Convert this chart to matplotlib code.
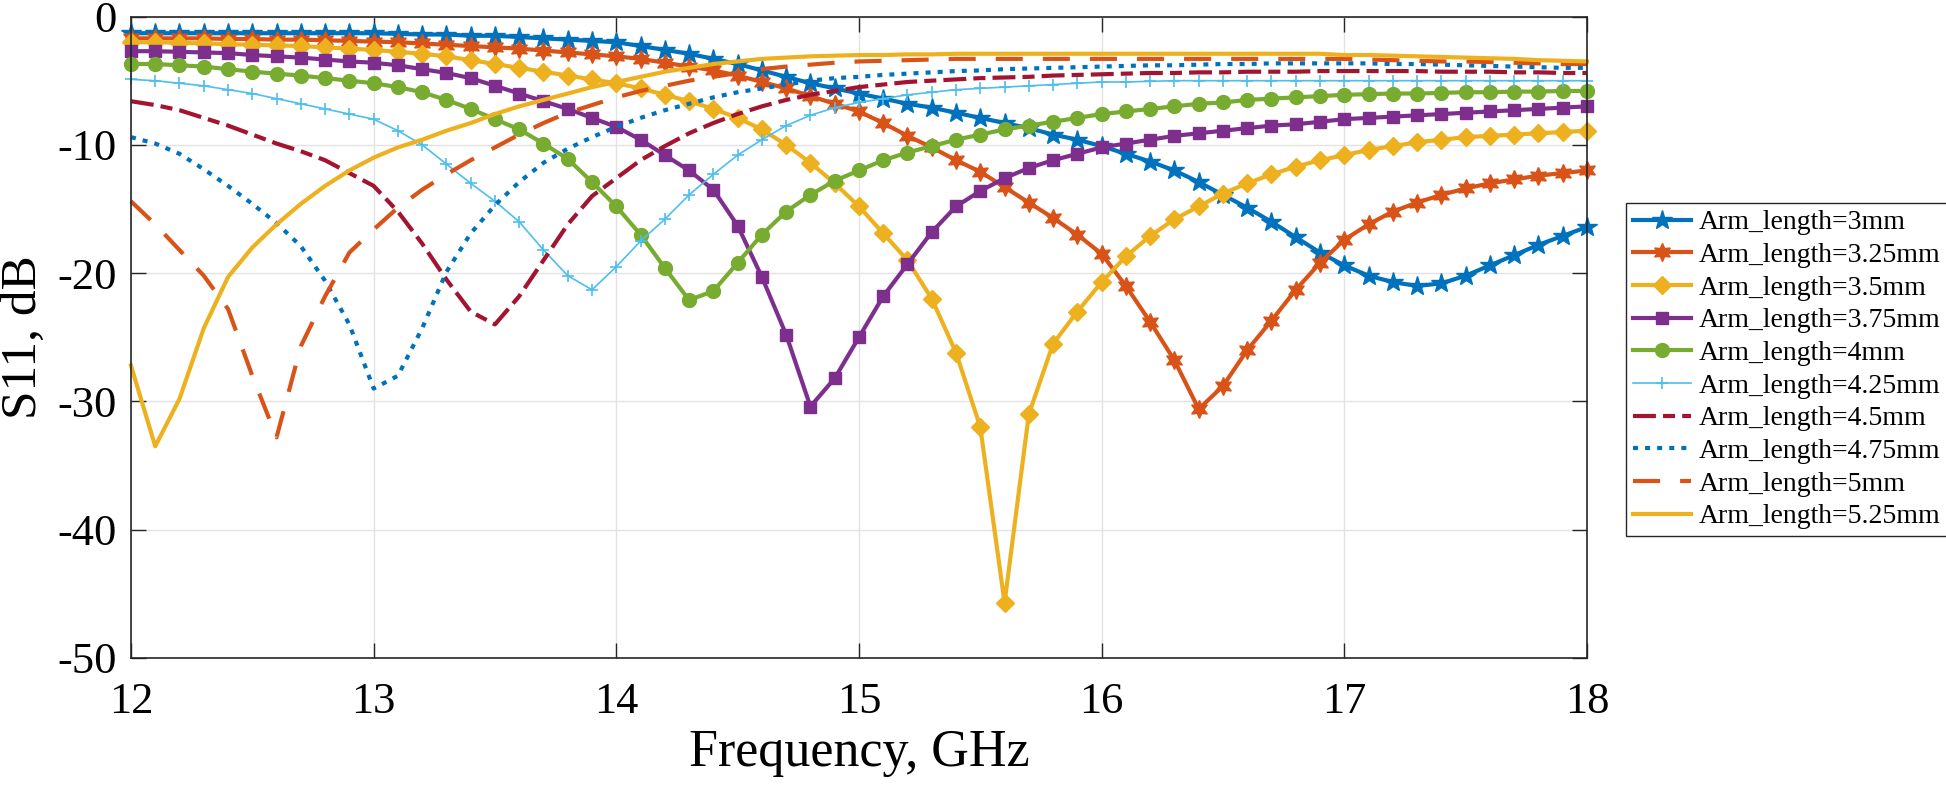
import matplotlib
matplotlib.use('Agg')
import matplotlib.pyplot as plt

plt.rcParams['font.family'] = ['Liberation Serif', 'DejaVu Serif']
plt.rcParams['axes.unicode_minus'] = False

# frequency sweep, GHz
freq = [12.0, 12.1, 12.2, 12.3, 12.4, 12.5, 12.6, 12.7, 12.8, 12.9,
        13.0, 13.1, 13.2, 13.3, 13.4, 13.5, 13.6, 13.7, 13.8, 13.9,
        14.0, 14.1, 14.2, 14.3, 14.4, 14.5, 14.6, 14.7, 14.8, 14.9,
        15.0, 15.1, 15.2, 15.3, 15.4, 15.5, 15.6, 15.7, 15.8, 15.9,
        16.0, 16.1, 16.2, 16.3, 16.4, 16.5, 16.6, 16.7, 16.8, 16.9,
        17.0, 17.1, 17.2, 17.3, 17.4, 17.5, 17.6, 17.7, 17.8, 17.9,
        18.0]

# S11 (dB), one list per arm length
s11_300 = [-1.3, -1.3, -1.3, -1.3, -1.3, -1.3, -1.3, -1.3, -1.3, -1.3,
           -1.3, -1.35, -1.4, -1.4, -1.5, -1.5, -1.6, -1.7, -1.8, -1.9,
           -2.0, -2.3, -2.6, -2.9, -3.3, -3.7, -4.2, -4.7, -5.2, -5.6,
           -6.0, -6.4, -6.8, -7.1, -7.5, -7.9, -8.3, -8.7, -9.2, -9.6,
           -10.1, -10.7, -11.3, -12.0, -12.9, -13.9, -14.9, -16.0, -17.2, -18.4,
           -19.4, -20.2, -20.7, -21.0, -20.8, -20.2, -19.4, -18.6, -17.8, -17.1,
           -16.4]
s11_325 = [-1.7, -1.7, -1.7, -1.7, -1.75, -1.75, -1.8, -1.8, -1.85, -1.9,
           -1.95, -2.0, -2.1, -2.2, -2.3, -2.4, -2.5, -2.65, -2.8, -2.95,
           -3.1, -3.3, -3.6, -3.9, -4.2, -4.6, -5.1, -5.6, -6.2, -6.8,
           -7.4, -8.3, -9.3, -10.2, -11.2, -12.1, -13.3, -14.5, -15.7, -17.0,
           -18.5, -21.0, -23.8, -26.8, -30.6, -28.8, -26.0, -23.7, -21.3, -19.2,
           -17.4, -16.2, -15.2, -14.5, -13.9, -13.4, -13.0, -12.7, -12.4, -12.2,
           -12.0]
s11_350 = [-2.0, -2.0, -2.05, -2.1, -2.15, -2.2, -2.25, -2.3, -2.4, -2.5,
           -2.6, -2.75, -2.9, -3.1, -3.4, -3.7, -4.0, -4.3, -4.6, -4.9,
           -5.2, -5.6, -6.1, -6.6, -7.2, -7.9, -8.8, -10.0, -11.4, -13.0,
           -14.8, -16.9, -19.0, -22.0, -26.2, -32.0, -45.7, -31.0, -25.5, -23.0,
           -20.7, -18.7, -17.1, -15.8, -14.8, -13.8, -13.0, -12.3, -11.7, -11.2,
           -10.8, -10.4, -10.1, -9.8, -9.6, -9.4, -9.3, -9.2, -9.1, -9.0,
           -8.9]
s11_375 = [-2.7, -2.7, -2.75, -2.8, -2.85, -3.0, -3.1, -3.2, -3.35, -3.5,
           -3.6, -3.8, -4.1, -4.4, -4.8, -5.4, -6.0, -6.6, -7.2, -7.9,
           -8.6, -9.6, -10.8, -12.0, -13.5, -16.3, -20.3, -24.8, -30.4, -28.2,
           -25.0, -21.8, -19.3, -16.8, -14.8, -13.6, -12.6, -11.8, -11.2, -10.7,
           -10.2, -9.9, -9.6, -9.3, -9.1, -8.9, -8.7, -8.5, -8.4, -8.2,
           -8.0, -7.9, -7.8, -7.7, -7.6, -7.5, -7.4, -7.3, -7.2, -7.1,
           -7.0]
s11_400 = [-3.7, -3.7, -3.8, -3.9, -4.1, -4.3, -4.45, -4.6, -4.8, -5.0,
           -5.2, -5.5, -5.9, -6.5, -7.2, -8.0, -8.8, -9.9, -11.1, -12.9,
           -14.8, -17.0, -19.6, -22.1, -21.4, -19.2, -17.0, -15.2, -13.9, -12.8,
           -12.0, -11.2, -10.6, -10.1, -9.6, -9.2, -8.8, -8.5, -8.2, -7.9,
           -7.6, -7.4, -7.2, -7.0, -6.8, -6.7, -6.5, -6.4, -6.3, -6.2,
           -6.1, -6.05, -6.0, -6.0, -5.95, -5.9, -5.9, -5.85, -5.85, -5.8,
           -5.8]
s11_425 = [-4.9, -5.0, -5.2, -5.4, -5.7, -6.0, -6.4, -6.8, -7.2, -7.6,
           -8.0, -8.9, -10.0, -11.5, -13.0, -14.4, -16.0, -18.2, -20.2, -21.3,
           -19.5, -17.5, -15.8, -13.9, -12.3, -10.8, -9.6, -8.5, -7.7, -7.1,
           -6.7, -6.4, -6.1, -5.9, -5.7, -5.6, -5.5, -5.4, -5.3, -5.2,
           -5.1, -5.1, -5.05, -5.0, -5.0, -5.0, -5.0, -5.0, -5.0, -5.0,
           -5.0, -5.0, -5.0, -5.0, -5.0, -5.0, -5.0, -5.0, -5.0, -5.0,
           -5.0]
s11_450 = [-6.6, -6.9, -7.3, -7.9, -8.5, -9.2, -9.9, -10.5, -11.2, -12.2,
           -13.2, -15.2, -17.7, -20.5, -23.0, -24.0, -21.8, -19.0, -16.2, -14.0,
           -12.6, -11.2, -10.1, -9.1, -8.3, -7.6, -7.0, -6.5, -6.1, -5.8,
           -5.5, -5.3, -5.1, -5.0, -4.9, -4.8, -4.75, -4.7, -4.6, -4.55,
           -4.5, -4.45, -4.4, -4.4, -4.35, -4.35, -4.3, -4.3, -4.3, -4.25,
           -4.25, -4.25, -4.25, -4.25, -4.3, -4.3, -4.3, -4.35, -4.35, -4.4,
           -4.4]
s11_475 = [-9.4, -9.9, -10.7, -11.9, -13.2, -14.6, -16.1, -17.9, -20.6, -24.0,
           -29.0, -28.0, -24.3, -19.9, -16.9, -14.7, -12.9, -11.4, -10.3, -9.4,
           -8.6, -7.9, -7.3, -6.8, -6.3, -5.9, -5.6, -5.3, -5.0, -4.8,
           -4.7, -4.55, -4.45, -4.35, -4.25, -4.2, -4.1, -4.05, -4.0, -3.95,
           -3.9, -3.85, -3.8, -3.8, -3.75, -3.7, -3.7, -3.65, -3.65, -3.65,
           -3.65, -3.65, -3.7, -3.7, -3.75, -3.8, -3.85, -3.9, -3.95, -4.0,
           -4.0]
s11_500 = [-14.4, -16.2, -18.2, -20.2, -22.8, -28.0, -32.8, -25.7, -21.8, -18.4,
           -16.6, -14.9, -13.5, -12.3, -11.2, -10.2, -9.2, -8.3, -7.5, -6.9,
           -6.3, -5.8, -5.4, -5.0, -4.7, -4.4, -4.1, -3.9, -3.75, -3.6,
           -3.5, -3.45, -3.4, -3.35, -3.3, -3.3, -3.3, -3.3, -3.3, -3.3,
           -3.3, -3.3, -3.3, -3.3, -3.3, -3.3, -3.3, -3.3, -3.3, -3.3,
           -3.3, -3.35, -3.4, -3.45, -3.5, -3.5, -3.55, -3.6, -3.65, -3.7,
           -3.7]
s11_525 = [-27.2, -33.5, -29.8, -24.3, -20.3, -18.0, -16.2, -14.6, -13.2, -12.0,
           -11.0, -10.2, -9.6, -8.9, -8.3, -7.6, -7.0, -6.5, -6.0, -5.5,
           -5.1, -4.7, -4.3, -4.0, -3.7, -3.5, -3.3, -3.2, -3.1, -3.05,
           -3.0, -3.0, -2.95, -2.95, -2.9, -2.9, -2.9, -2.9, -2.9, -2.9,
           -2.9, -2.9, -2.9, -2.9, -2.9, -2.9, -2.9, -2.9, -2.9, -2.9,
           -3.0, -3.0, -3.05, -3.1, -3.15, -3.2, -3.25, -3.3, -3.4, -3.45,
           -3.5]

labels = ['Arm_length=3mm', 'Arm_length=3.25mm', 'Arm_length=3.5mm',
          'Arm_length=3.75mm', 'Arm_length=4mm', 'Arm_length=4.25mm',
          'Arm_length=4.5mm', 'Arm_length=4.75mm', 'Arm_length=5mm',
          'Arm_length=5.25mm']
series = [s11_300, s11_325, s11_350, s11_375, s11_400,
          s11_425, s11_450, s11_475, s11_500, s11_525]

blue = '#0072BD'
orange = '#D95319'
yellow = '#EDB120'
purple = '#7E2F8E'
green = '#77AC30'
cyan = '#4DBEEE'
wine = '#A2142F'

styles = [
    dict(color=blue, lw=3, marker='*', ms=15),
    dict(color=orange, lw=3, marker=(6, 1, 0), ms=13),
    dict(color=yellow, lw=3, marker='D', ms=9),
    dict(color=purple, lw=3, marker='s', ms=8),
    dict(color=green, lw=3, marker='o', ms=10),
    dict(color=cyan, lw=1.2, marker='+', ms=9, mew=1.2),
    dict(color=wine, lw=3, dashes=(5.5, 1.7, 2.9, 1.7)),
    dict(color=blue, lw=3, dashes=(1.2, 1.7)),
    dict(color=orange, lw=3, dashes=(6.5, 4.8)),
    dict(color=yellow, lw=3),
]

fig = plt.figure(figsize=(19.46, 7.88), dpi=100)
ax = fig.add_axes([0.0673, 0.165, 0.7482, 0.814])

for y, lab, st in zip(series, labels, styles):
    st = dict(st)
    if 'marker' in st:
        st.setdefault('mec', st['color'])
        st.setdefault('mfc', st['color'])
    ax.plot(freq, y, label=lab, clip_on=False, **st)

ax.set_xlim(12, 18)
ax.set_ylim(-50, 0)
ax.set_xticks([12, 13, 14, 15, 16, 17, 18])
ax.set_yticks([-50, -40, -30, -20, -10, 0])
ax.grid(True, color='#e2e2e2', lw=1)
ax.set_axisbelow(True)
for sp in ax.spines.values():
    sp.set_color('#262626')
    sp.set_linewidth(1.2)
ax.tick_params(direction='in', length=11, width=1, top=True, right=True,
               labelsize=32, colors='#262626', labelcolor='black')
ax.tick_params(axis='x', pad=17)
ax.tick_params(axis='y', pad=10)

ax.set_xlabel('Frequency, GHz', fontsize=37.5)
ax.set_ylabel('S11, dB', fontsize=37)
ax.xaxis.set_label_coords(0.5, -0.11)
ax.yaxis.set_label_coords(-0.058, 0.5)

leg = ax.legend(loc='upper left', bbox_to_anchor=(0.8356, 0.7424),
                bbox_transform=fig.transFigure, fontsize=20, frameon=True,
                fancybox=False, framealpha=1, edgecolor='#262626',
                borderaxespad=0, borderpad=0.25, labelspacing=0.26,
                handlelength=2.1, handletextpad=0.25, numpoints=1)
leg.get_frame().set_linewidth(1)

fig.savefig('out.png', dpi=100)
